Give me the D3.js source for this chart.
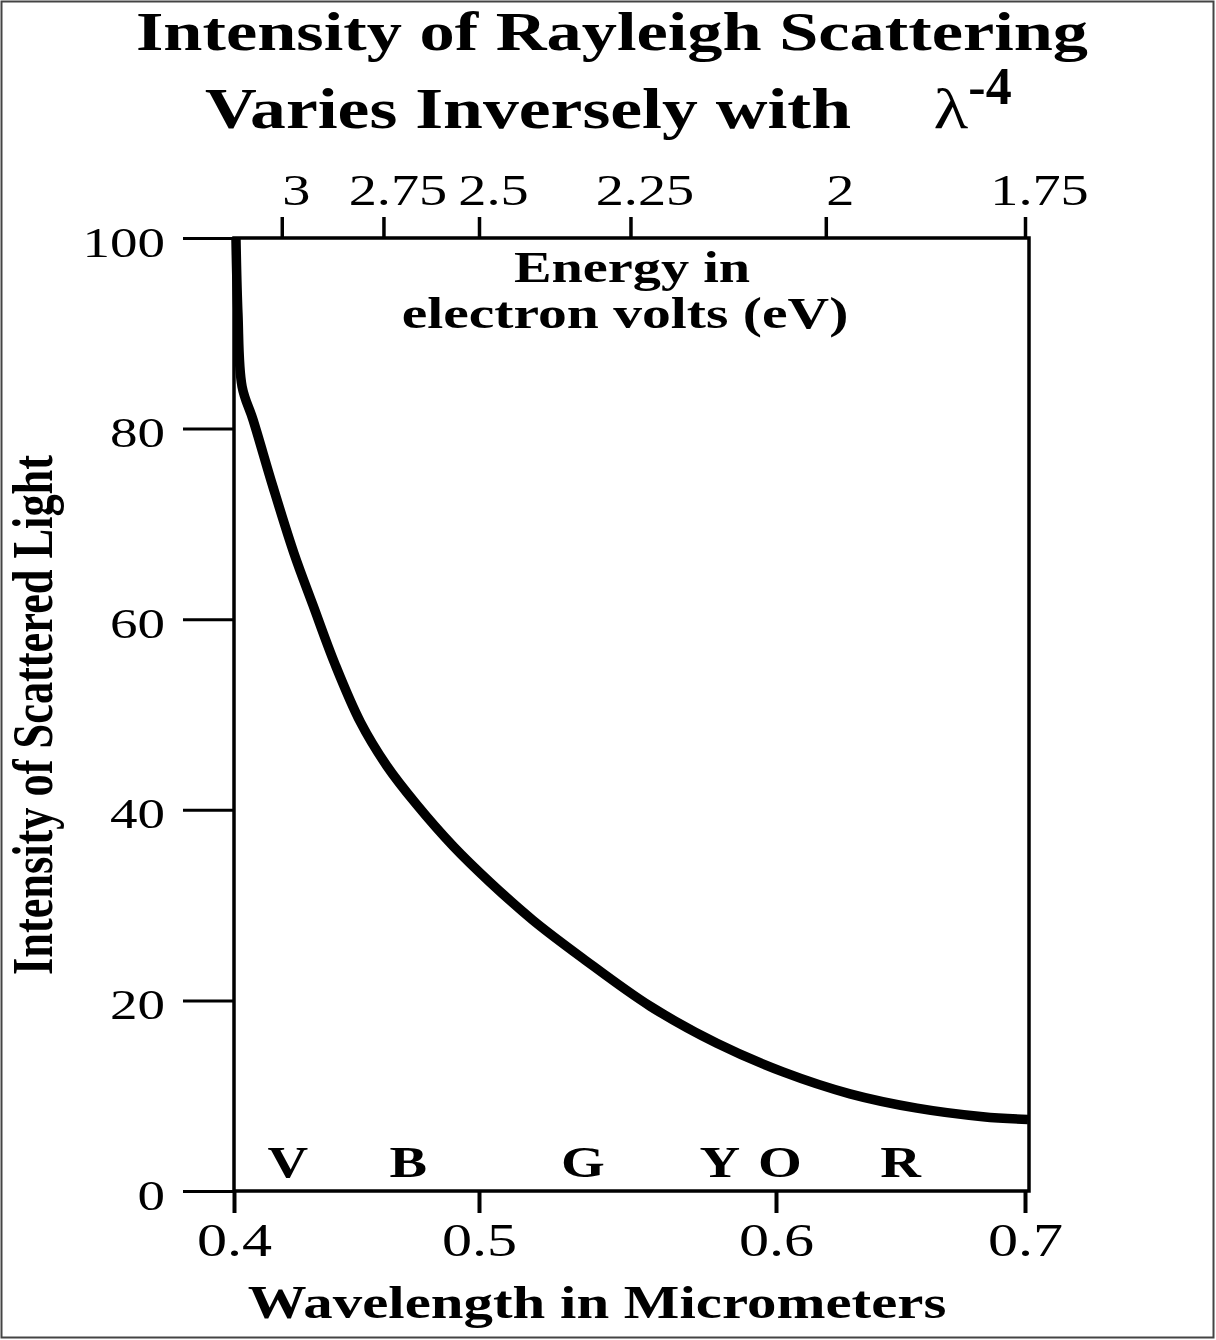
<!DOCTYPE html>
<html>
<head>
<meta charset="utf-8">
<script src="https://cdn.jsdelivr.net/npm/d3@7"></script>
<style>
  body { margin: 0; background: #fff; }
  text { font-family: "Liberation Serif", "Times New Roman", serif; fill: #000; }
</style>
</head>
<body>
<div id="chart"></div>
<script>
// wavelength (micrometers) and relative intensity
var wavelength = [0.4008, 0.4016, 0.4033, 0.4078, 0.4159, 0.4245, 0.4322, 0.4412, 0.4516, 0.4624,
                  0.4747, 0.4894, 0.5037, 0.5182, 0.535, 0.5576, 0.5801, 0.6028, 0.6297, 0.6566,
                  0.6831, 0.7012];
var intensity = [100, 92.1, 84.4, 80.9, 73.9, 66.9, 61.5, 55.3, 49.2, 44.6,
                 40.5, 36.2, 32.4, 28.4, 24.4, 19.4, 15.5, 12.5, 10.2, 8.7,
                 7.8, 7.5];

var wlTicks = [0.4, 0.5, 0.6, 0.7];
var intensityTicks = [0, 20, 40, 60, 80, 100];
var eVTicks = [3, 2.75, 2.5, 2.25, 2, 1.75];
var eVAtWavelength = [0.4195, 0.461, 0.5, 0.551, 0.62, 0.7];

var colorLetters = ["V", "B", "G", "Y", "O", "R"];
var colorWavelength = [0.422, 0.4711, 0.535, 0.5811, 0.6016, 0.65];

var W = 1216, H = 1340;
var SX = 1.28; // the original art is stretched sideways

var svg = d3.select('#chart')
  .append('svg')
  .attr('width', W)
  .attr('height', H);

svg.append('rect')
  .attr('x', 1.5).attr('y', 1.5)
  .attr('width', W - 4).attr('height', H - 4)
  .attr('fill', 'none')
  .attr('stroke', '#444')
  .attr('stroke-width', 2);

var pLeft = 234, pRight = 1029, pTop = 238, pBottom = 1191;

// wavelength axis is not evenly spaced in the original
var x = d3.scaleLinear()
  .domain(wlTicks)
  .range([pLeft, 479, 776, 1025]);

var y = d3.scaleLinear()
  .domain([0, 100])
  .range([pBottom, pTop]);

var xE = d3.scaleLinear()
  .domain(eVTicks)
  .range(eVAtWavelength.map(x));

function stretch(sel, k) {
  sel.each(function() {
    var t = d3.select(this);
    var tx = +t.attr('x') || 0, ty = +t.attr('y') || 0;
    t.attr('x', 0).attr('y', 0)
     .attr('transform', 'translate(' + tx + ',' + ty + ') scale(' + k + ',1)');
  });
}

// frame
svg.append('rect')
  .attr('x', pLeft).attr('y', pTop)
  .attr('width', pRight - pLeft).attr('height', pBottom - pTop)
  .attr('fill', 'none')
  .attr('stroke', '#000')
  .attr('stroke-width', 3.5);

// left axis
var gy = svg.append('g')
  .attr('transform', 'translate(' + pLeft + ',0)')
  .call(d3.axisLeft(y).tickValues(intensityTicks).tickSize(51).tickPadding(18));
gy.select('.domain').remove();
gy.selectAll('line').attr('stroke', '#000').attr('stroke-width', 3);
gy.selectAll('text')
  .attr('font-size', 43)
  .attr('font-family', '"Liberation Serif", serif')
  .attr('dy', '0.42em')
  .call(stretch, SX);

// bottom axis
var gx = svg.append('g')
  .attr('transform', 'translate(0,' + pBottom + ')')
  .call(d3.axisBottom(x).tickValues(wlTicks).tickSize(22).tickPadding(10).tickFormat(d3.format('.1f')));
gx.select('.domain').remove();
gx.selectAll('line').attr('stroke', '#000').attr('stroke-width', 4);
gx.selectAll('text')
  .attr('font-size', 47)
  .attr('font-family', '"Liberation Serif", serif')
  .call(stretch, SX);

// top axis (energy)
var gt = svg.append('g')
  .attr('transform', 'translate(0,' + pTop + ')')
  .call(d3.axisTop(xE).tickValues(eVTicks).tickSize(21).tickPadding(12).tickFormat(d3.format('')));
gt.select('.domain').remove();
gt.selectAll('line').attr('stroke', '#000').attr('stroke-width', 3.5);
gt.selectAll('text')
  .attr('font-size', 44)
  .attr('font-family', '"Liberation Serif", serif')
  .attr('x', 14)
  .call(stretch, SX);

// curve
var pts = wavelength.map(function(w, i) { return {w: w, v: intensity[i]}; });
var line = d3.line()
  .x(function(d) { return x(d.w); })
  .y(function(d) { return y(d.v); })
  .curve(d3.curveCatmullRom);

svg.append('path')
  .datum(pts)
  .attr('d', line)
  .attr('fill', 'none')
  .attr('stroke', '#000')
  .attr('stroke-width', 9.5);

// colour letters along the bottom
svg.selectAll('.col')
  .data(colorLetters)
  .enter()
  .append('text')
  .attr('class', 'col')
  .attr('x', function(d, i) { return x(colorWavelength[i]); })
  .attr('y', pBottom - 14)
  .attr('text-anchor', 'middle')
  .attr('font-size', 44)
  .attr('font-weight', 'bold')
  .text(function(d) { return d; })
  .call(stretch, SX);

// labels
function label(txt, tx, ty, size, weight, k) {
  return svg.append('text')
    .attr('x', tx).attr('y', ty)
    .attr('text-anchor', 'middle')
    .attr('font-size', size)
    .attr('font-weight', weight)
    .text(txt)
    .call(stretch, k);
}

label('Intensity of Rayleigh Scattering', 612, 50, 55, 'bold', SX);
label('Varies Inversely with', 528, 128, 56, 'bold', SX);
label('\u03bb', 951, 128, 56, 'normal', SX);
label('-4', 990, 104, 52, 'bold', 1.0);

label('Energy in', 632, 282, 44, 'bold', SX);
label('electron volts (eV)', 625, 328, 45, 'bold', SX);

label('Wavelength in Micrometers', 597, 1318, 46, 'bold', SX);

svg.append('text')
  .attr('transform', 'translate(52,715) rotate(-90) scale(1,' + SX + ')')
  .attr('text-anchor', 'middle')
  .attr('font-size', 44)
  .attr('font-weight', 'bold')
  .attr('textLength', 520)
  .attr('lengthAdjust', 'spacingAndGlyphs')
  .text('Intensity of Scattered Light');
</script>
</body>
</html>
